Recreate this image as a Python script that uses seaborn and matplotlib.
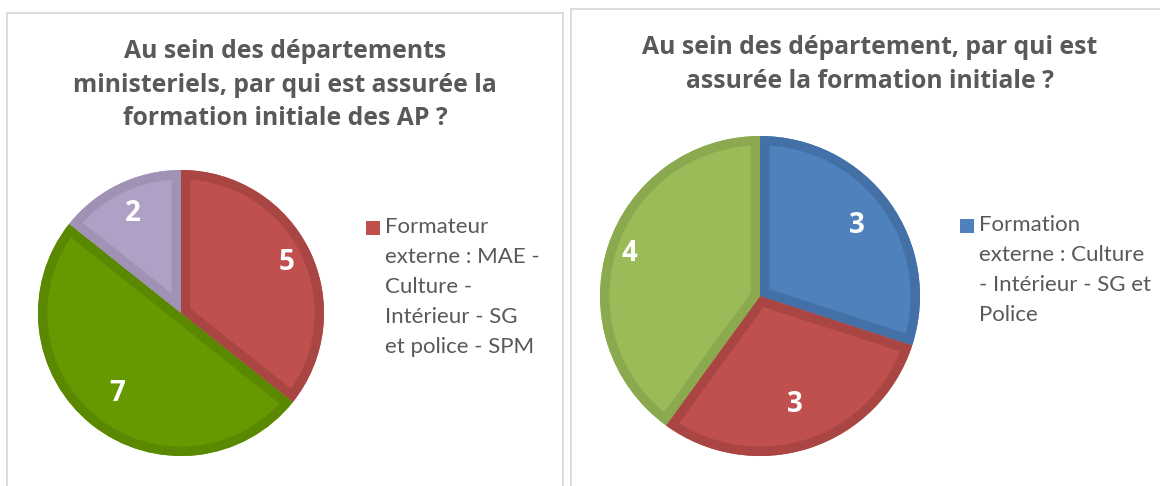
import matplotlib
matplotlib.use("Agg")
import matplotlib.pyplot as plt
from matplotlib.patches import Rectangle, Wedge
import seaborn as sns
import numpy as np

# ---------------- data ----------------
left_title = "Au sein des départements\nministeriels, par qui est assurée la\nformation initiale des AP ?"
left_categories = ["Formateur externe : MAE - Culture - Intérieur - SG et police - SPM", "", ""]
left_legend_text = "Formateur\nexterne : MAE -\nCulture -\nIntérieur - SG\net police - SPM"
left_values = [5, 7, 2]
left_colors = ["#C0504D", "#669900", "#B0A0C6"]
left_edges = ["#A94644", "#5A8800", "#A092B5"]
left_label_dist = [0.82, 0.72, 0.77]

right_title = "Au sein des département, par qui est\nassurée la formation initiale ?"
right_categories = ["Formation externe : Culture - Intérieur - SG et Police", "", ""]
right_legend_text = "Formation\nexterne : Culture\n- Intérieur - SG et\nPolice"
right_values = [3, 3, 4]
right_colors = ["#4F81BD", "#C0504D", "#9BBB59"]
right_edges = ["#4470A8", "#A94644", "#8BAA4F"]
right_label_dist = [0.75, 0.71, 0.86]

# ---------------- style ----------------
sns.set_theme(style="white")
plt.rcParams["font.family"] = ["Open Sans", "DejaVu Sans"]

W, H = 1160, 486
fig = plt.figure(figsize=(W / 100, H / 100), dpi=100)
fig.patch.set_facecolor("white")

def fx(px):
    return px / W

def fy(py):
    return 1 - py / H

# panel borders
for (x0, y0, x1, y1) in [(7, 13, 563, 490), (571, 9, 1162, 490)]:
    fig.patches.append(Rectangle((fx(x0), fy(y1)), fx(x1) - fx(x0), fy(y0) - fy(y1),
                                 transform=fig.transFigure, fill=False,
                                 edgecolor="#D9D9D9", linewidth=1.3))

def draw_pie(cx, cy, r, values, colors, edges, dists, title, title_x, title_y,
             legend_text, leg_x, leg_y):
    ax = fig.add_axes([fx(cx - r), fy(cy + r), 2 * r / W, 2 * r / H])
    wedges, _ = ax.pie(values, colors=colors, startangle=90, counterclock=False,
                       radius=1.0, wedgeprops=dict(linewidth=0))
    ax.set_xlim(-1, 1)
    ax.set_ylim(-1, 1)
    ax.set_aspect("auto")
    ax.axis("off")
    for w, ec, d, v in zip(wedges, edges, dists, values):
        border = Wedge(w.center, w.r, w.theta1, w.theta2, facecolor="none",
                       edgecolor=ec, linewidth=13.5)
        clip = Wedge(w.center, w.r, w.theta1, w.theta2, transform=ax.transData)
        ax.add_patch(border)
        border.set_clip_path(clip)
        mid = np.deg2rad((w.theta1 + w.theta2) / 2)
        ax.text(d * np.cos(mid), d * np.sin(mid), str(v), ha="center", va="center",
                color="white", fontsize=20, fontweight="bold")
    fig.text(fx(title_x), fy(title_y), title, ha="center", va="top",
             fontsize=17.8, fontweight="bold", color="#595959", linespacing=1.45)
    # legend (first series only, as in the reference)
    fig.patches.append(Rectangle((fx(leg_x), fy(leg_y + 14)), 14 / W, 14 / H,
                                 transform=fig.transFigure, facecolor=colors[0],
                                 edgecolor="none"))
    fig.text(fx(leg_x + 19), fy(leg_y - 4), legend_text, ha="left", va="top",
             fontsize=16, color="#595959", linespacing=1.62,
             family=["Lato", "DejaVu Sans"])
    return ax

draw_pie(181, 313, 143, left_values, left_colors, left_edges, left_label_dist,
         left_title, 285, 39, left_legend_text, 366, 221)
draw_pie(760, 296, 160, right_values, right_colors, right_edges, right_label_dist,
         right_title, 870, 35, right_legend_text, 960, 219)

fig.savefig("out.png", dpi=100)
